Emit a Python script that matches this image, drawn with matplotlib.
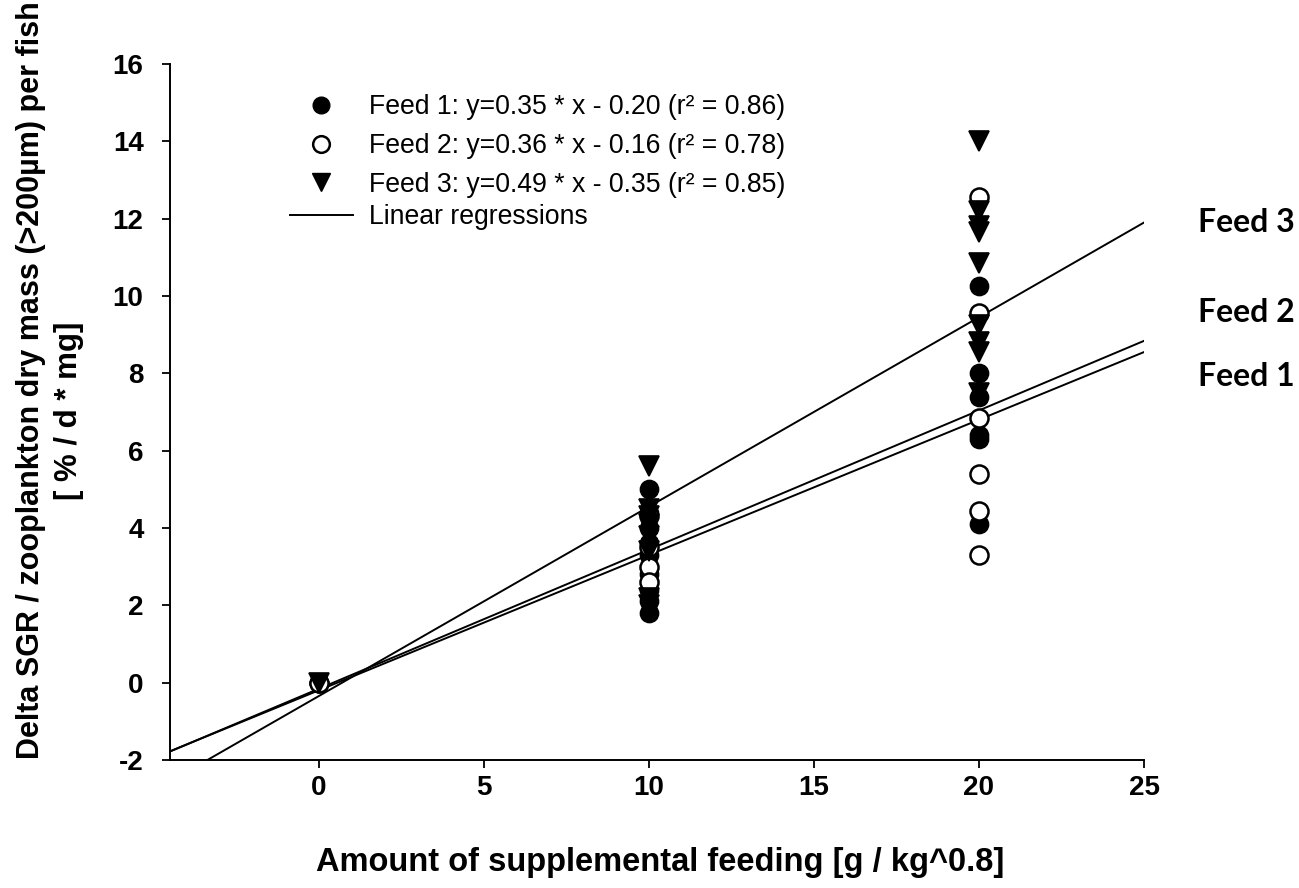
"""
Delta SGR vs. supplemental feeding, three feeds with linear regressions.
"""

import numpy as np
import matplotlib
matplotlib.use("Agg")
import matplotlib.pyplot as plt
from matplotlib.lines import Line2D


# feed amounts and responses
feed1_x = [0, 0, 0, 10, 10, 10, 10, 10, 10, 10, 10, 10, 20, 20, 20, 20, 20, 20]
feed1_y = [0.0, 0.0, 0.0, 5.0, 4.4, 4.0, 3.6, 3.3, 2.8, 2.4, 2.1, 1.8,
           10.25, 8.0, 7.4, 6.4, 6.3, 4.1]

feed2_x = [0, 10, 10, 10, 10, 20, 20, 20, 20, 20, 20]
feed2_y = [0.0, 4.3, 3.5, 3.0, 2.6, 12.55, 9.55, 6.85, 5.4, 4.45, 3.3]

feed3_x = [0, 10, 10, 10, 10, 10, 10, 10, 10, 20, 20, 20, 20, 20, 20, 20, 20, 20]
feed3_y = [0.0, 5.6, 4.5, 4.3, 4.1, 3.8, 3.4, 2.2, 2.0,
           14.0, 12.2, 11.8, 11.65, 10.85, 9.25, 8.8, 8.55, 7.5]

# regression coefficients (slope, intercept, r2)
slopes = [0.35, 0.36, 0.49]
intercepts = [-0.20, -0.16, -0.35]
r2_values = [0.86, 0.78, 0.85]

feed_names = ["Feed 1", "Feed 2", "Feed 3"]
x_ticks = [0, 5, 10, 15, 20, 25]
y_ticks = [-2, 0, 2, 4, 6, 8, 10, 12, 14, 16]

FONT = ["Liberation Sans", "DejaVu Sans"]
plt.rcParams["axes.unicode_minus"] = False

W, H = 1299, 888

fig = plt.figure(figsize=(W / 100, H / 100), dpi=100)
ax = fig.add_axes([170 / W, 1 - 760 / H, (1144 - 170) / W, (760 - 64) / H])

ax.set_xlim(-4.5, 25)
ax.set_ylim(-2, 16)

# regression lines
xs = np.array([-4.5, 25])
for m, b in zip(slopes, intercepts):
    ax.plot(xs, m * xs + b, color="black", lw=1.4, zorder=2)

msize = 13
ax.plot(feed1_x, feed1_y, "o", ms=msize, mfc="black", mec="black", mew=1.2, zorder=3)
ax.plot(feed2_x, feed2_y, "o", ms=msize, mfc="white", mec="black", mew=1.8, zorder=4)
ax.plot(feed3_x, feed3_y, "v", ms=msize + 1, mfc="black", mec="black", mew=1.2, zorder=5)

# axes style: left + bottom only, outward ticks
for side in ["top", "right"]:
    ax.spines[side].set_visible(False)
for side in ["left", "bottom"]:
    ax.spines[side].set_linewidth(1.4)

ax.set_xticks(x_ticks)
ax.set_yticks(y_ticks)
ax.tick_params(direction="out", length=6, width=1.3)
ax.tick_params(axis="x", pad=5)
ax.tick_params(axis="y", pad=13)
for lab in ax.get_xticklabels() + ax.get_yticklabels():
    lab.set_family(FONT)
    lab.set_fontweight("bold")
    lab.set_fontsize(20)

fig.text(660 / W, 1 - 862 / H, "Amount of supplemental feeding [g / kg^0.8]",
         ha="center", va="center", family=FONT, fontweight="bold", fontsize=23.5)

fig.text(31 / W, 1 - 380 / H, "Delta SGR / zooplankton dry mass (>200µm) per fish",
         rotation=90, ha="center", va="center", family=FONT, fontweight="bold", fontsize=22)
fig.text(69 / W, 1 - 411 / H, "[ % / d * mg]",
         rotation=90, ha="center", va="center", family=FONT, fontweight="bold", fontsize=22.5)

# legend: marker rows, then the regression-line row a bit closer
marker_handles = [
    Line2D([], [], ls="none", marker="o", ms=12, mfc="black", mec="black"),
    Line2D([], [], ls="none", marker="o", ms=12, mfc="white", mec="black", mew=1.8),
    Line2D([], [], ls="none", marker="v", ms=13, mfc="black", mec="black"),
]
labels = [f"{n}: y={m:.2f} * x - {abs(b):.2f} (r² = {r:.2f})"
          for n, m, b, r in zip(feed_names, slopes, intercepts, r2_values)]
leg_kw = dict(frameon=False, borderpad=0, borderaxespad=0, handlelength=2.35,
              handletextpad=0.6, prop={"family": FONT, "size": 19.2})
leg1 = ax.legend(marker_handles, labels, loc="center left",
                 bbox_to_anchor=(120 / 974, (760 - 146) / 696), labelspacing=0.47, **leg_kw)
ax.add_artist(leg1)
ax.legend([Line2D([], [], color="black", lw=1.4)], ["Linear regressions"],
          loc="center left", bbox_to_anchor=(120 / 974, (760 - 217) / 696), **leg_kw)

# right-hand feed labels at end of each line
label_y = [377, 312, 222]
for name, yp in zip(feed_names, label_y):
    fig.text(1198 / W, 1 - yp / H, name, ha="left", va="center",
             family=["Lato", "DejaVu Sans"], fontweight="bold", fontsize=23)

fig.savefig("out.png", dpi=100)
